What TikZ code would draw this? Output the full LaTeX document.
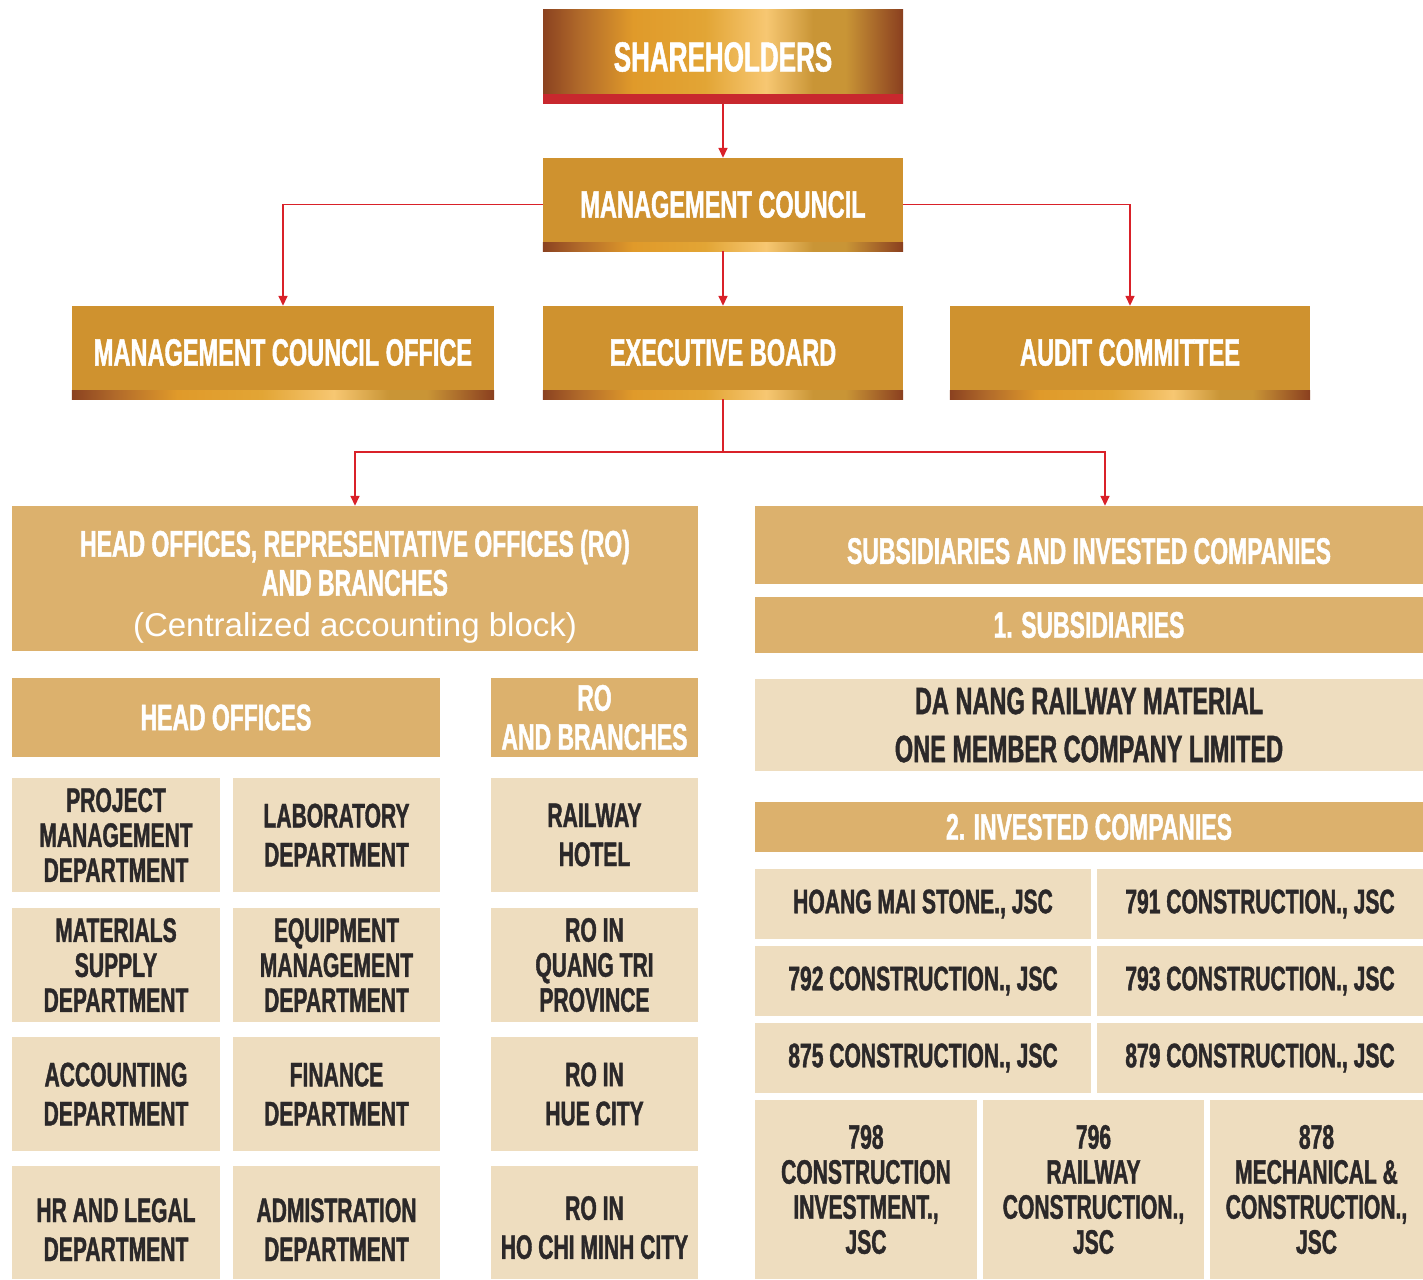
\documentclass[tikz,border=0pt]{standalone}
\usepackage{fontspec}
\usetikzlibrary{arrows.meta}
\newfontfamily\condfont[FakeStretch=0.62,FakeBold=1.2]{Liberation Sans}
\newfontfamily\lightfont{Liberation Sans}
\definecolor{gold}{HTML}{CF922F}
\definecolor{tan}{HTML}{DCB16D}
\definecolor{cream}{HTML}{EEDDBF}
\definecolor{ink}{HTML}{2B2829}
\definecolor{linkred}{HTML}{D92129}
\definecolor{barred}{HTML}{C8282E}
\definecolor{brnA}{HTML}{8B4220}
\definecolor{brnB}{HTML}{B0692A}
\definecolor{orgA}{HTML}{E09A2A}
\definecolor{orgB}{HTML}{E2A535}
\definecolor{pale}{HTML}{F7C772}
\definecolor{mgold}{HTML}{C99536}
\definecolor{brnC}{HTML}{8A3F1F}
\pgfdeclarehorizontalshading{goldbar}{100bp}{color(0bp)=(brnA); color(25bp)=(brnA); color(30bp)=(brnB); color(37.5bp)=(orgA); color(47.5bp)=(orgB); color(56bp)=(pale); color(62.5bp)=(mgold); color(67bp)=(mgold); color(75bp)=(brnC); color(100bp)=(brnC)}
\tikzset{
  shbox/.style={shading=goldbar, text=white, inner sep=0pt, font=\condfont\bfseries\fontsize{42}{44}\selectfont},
  goldbox/.style={fill=gold, text=white, inner sep=0pt, font=\condfont\bfseries\fontsize{38}{40}\selectfont},
  tanbox/.style={fill=tan, text=white, align=center, inner sep=0pt, font=\condfont\bfseries\fontsize{37}{39}\selectfont},
  cell/.style={fill=cream, text=ink, align=center, inner sep=0pt, font=\condfont\bfseries\fontsize{34}{35}\selectfont},
  link/.style={draw=linkred, line width=1.6pt, -{Stealth[length=10pt,width=9pt,inset=0pt]}},
}
\begin{document}
\begin{tikzpicture}[x=1pt, y=-1pt]
\useasboundingbox (0,0) rectangle (1423,1279);
% top of the chart
\node[shbox, minimum width=360, minimum height=94] (sh) at (723,57) {SHAREHOLDERS};
\fill[barred] (sh.south west) rectangle ([yshift=10pt]sh.south east);
\node[goldbox, minimum width=360, minimum height=93] (mc) at (723,204.5) {MANAGEMENT COUNCIL};
\node[goldbox, minimum width=422, minimum height=93] (mco) at (283,352.5) {MANAGEMENT COUNCIL OFFICE};
\node[goldbox, minimum width=360, minimum height=93] (eb) at (723,352.5) {EXECUTIVE BOARD};
\node[goldbox, minimum width=360, minimum height=93] (ac) at (1130,352.5) {AUDIT COMMITTEE};
\foreach \b in {mc,mco,eb,ac}
  \shade[shading=goldbar] (\b.south west) rectangle ([yshift=9pt]\b.south east);

\draw[link] (sh.south) -- (mc.north);
\draw[link] (mc.west) -| (mco.north);
\draw[link] (mc.east) -| (ac.north);
\draw[link] (mc.south) -- (eb.north);

% left block
\node[tanbox, minimum width=686, minimum height=145] (hq) at (355,578.5) {\rule{0pt}{43pt}HEAD OFFICES, REPRESENTATIVE OFFICES (RO)\\AND BRANCHES\\[2pt]{\lightfont\mdseries\fontsize{33}{39}\selectfont (Centralized accounting block)}};
\node[tanbox, minimum width=428, minimum height=79] (ho) at (226,717.5) {HEAD OFFICES};
\node[tanbox, minimum width=207, minimum height=79] (ro) at (594.5,717.5) {RO\\AND BRANCHES};

\node[cell, minimum width=208, minimum height=114] (pm) at (116,835) {PROJECT\\MANAGEMENT\\DEPARTMENT};
\node[cell, minimum width=207, minimum height=114] (lab) at (336.5,835) {LABORATORY\\[4pt]DEPARTMENT};
\node[cell, minimum width=207, minimum height=114] (hotel) at (594.5,835) {RAILWAY\\[4pt]HOTEL};
\node[cell, minimum width=208, minimum height=114] (ms) at (116,965) {MATERIALS\\SUPPLY\\DEPARTMENT};
\node[cell, minimum width=207, minimum height=114] (em) at (336.5,965) {EQUIPMENT\\MANAGEMENT\\DEPARTMENT};
\node[cell, minimum width=207, minimum height=114] (rqt) at (594.5,965) {RO IN\\QUANG TRI\\PROVINCE};
\node[cell, minimum width=208, minimum height=114] (acc) at (116,1094) {ACCOUNTING\\[4pt]DEPARTMENT};
\node[cell, minimum width=207, minimum height=114] (fin) at (336.5,1094) {FINANCE\\[4pt]DEPARTMENT};
\node[cell, minimum width=207, minimum height=114] (rhue) at (594.5,1094) {RO IN\\[4pt]HUE CITY};
\node[cell, minimum width=208, minimum height=113] (hr) at (116,1222.5) {\rule{0pt}{38pt}HR AND LEGAL\\[4pt]DEPARTMENT};
\node[cell, minimum width=207, minimum height=113] (adm) at (336.5,1222.5) {\rule{0pt}{38pt}ADMISTRATION\\[4pt]DEPARTMENT};
\node[cell, minimum width=207, minimum height=113] (rhcm) at (594.5,1222.5) {\rule{0pt}{34pt}RO IN\\[4pt]HO CHI MINH CITY};

% right block
\node[tanbox, minimum width=668, minimum height=78] (sub) at (1089,545) {\rule{0pt}{38pt}SUBSIDIARIES AND INVESTED COMPANIES};
\node[tanbox, minimum width=668, minimum height=56] (s1) at (1089,625) {1. SUBSIDIARIES};
\node[cell, minimum width=668, minimum height=92, font=\condfont\bfseries\fontsize{38}{38}\selectfont] (dn) at (1089,725) {DA NANG RAILWAY MATERIAL\\[10pt]ONE MEMBER COMPANY LIMITED};
\node[tanbox, minimum width=668, minimum height=50] (inv) at (1089,827) {2. INVESTED COMPANIES};

\node[cell, minimum width=336, minimum height=70] (hm) at (923,904) {HOANG MAI STONE., JSC};
\node[cell, minimum width=326, minimum height=70] (c791) at (1260,904) {791 CONSTRUCTION., JSC};
\node[cell, minimum width=336, minimum height=70] (c792) at (923,981) {792 CONSTRUCTION., JSC};
\node[cell, minimum width=326, minimum height=70] (c793) at (1260,981) {793 CONSTRUCTION., JSC};
\node[cell, minimum width=336, minimum height=70] (c875) at (923,1058) {875 CONSTRUCTION., JSC};
\node[cell, minimum width=326, minimum height=70] (c879) at (1260,1058) {879 CONSTRUCTION., JSC};
\node[cell, minimum width=222, minimum height=179] (c798) at (866,1189.5) {798\\CONSTRUCTION\\INVESTMENT.,\\JSC};
\node[cell, minimum width=221, minimum height=179] (c796) at (1093.5,1189.5) {796\\RAILWAY\\CONSTRUCTION.,\\JSC};
\node[cell, minimum width=213, minimum height=179] (c878) at (1316.5,1189.5) {878\\MECHANICAL \&\\CONSTRUCTION.,\\JSC};

% executive board down to both blocks
\coordinate (split) at (723,452);
\draw[draw=linkred, line width=1.6pt] (eb.south) -- (split);
\draw[link] (split) -| (hq.north);
\draw[link] (split) -| ([xshift=16pt]sub.north);
\end{tikzpicture}
\end{document}
